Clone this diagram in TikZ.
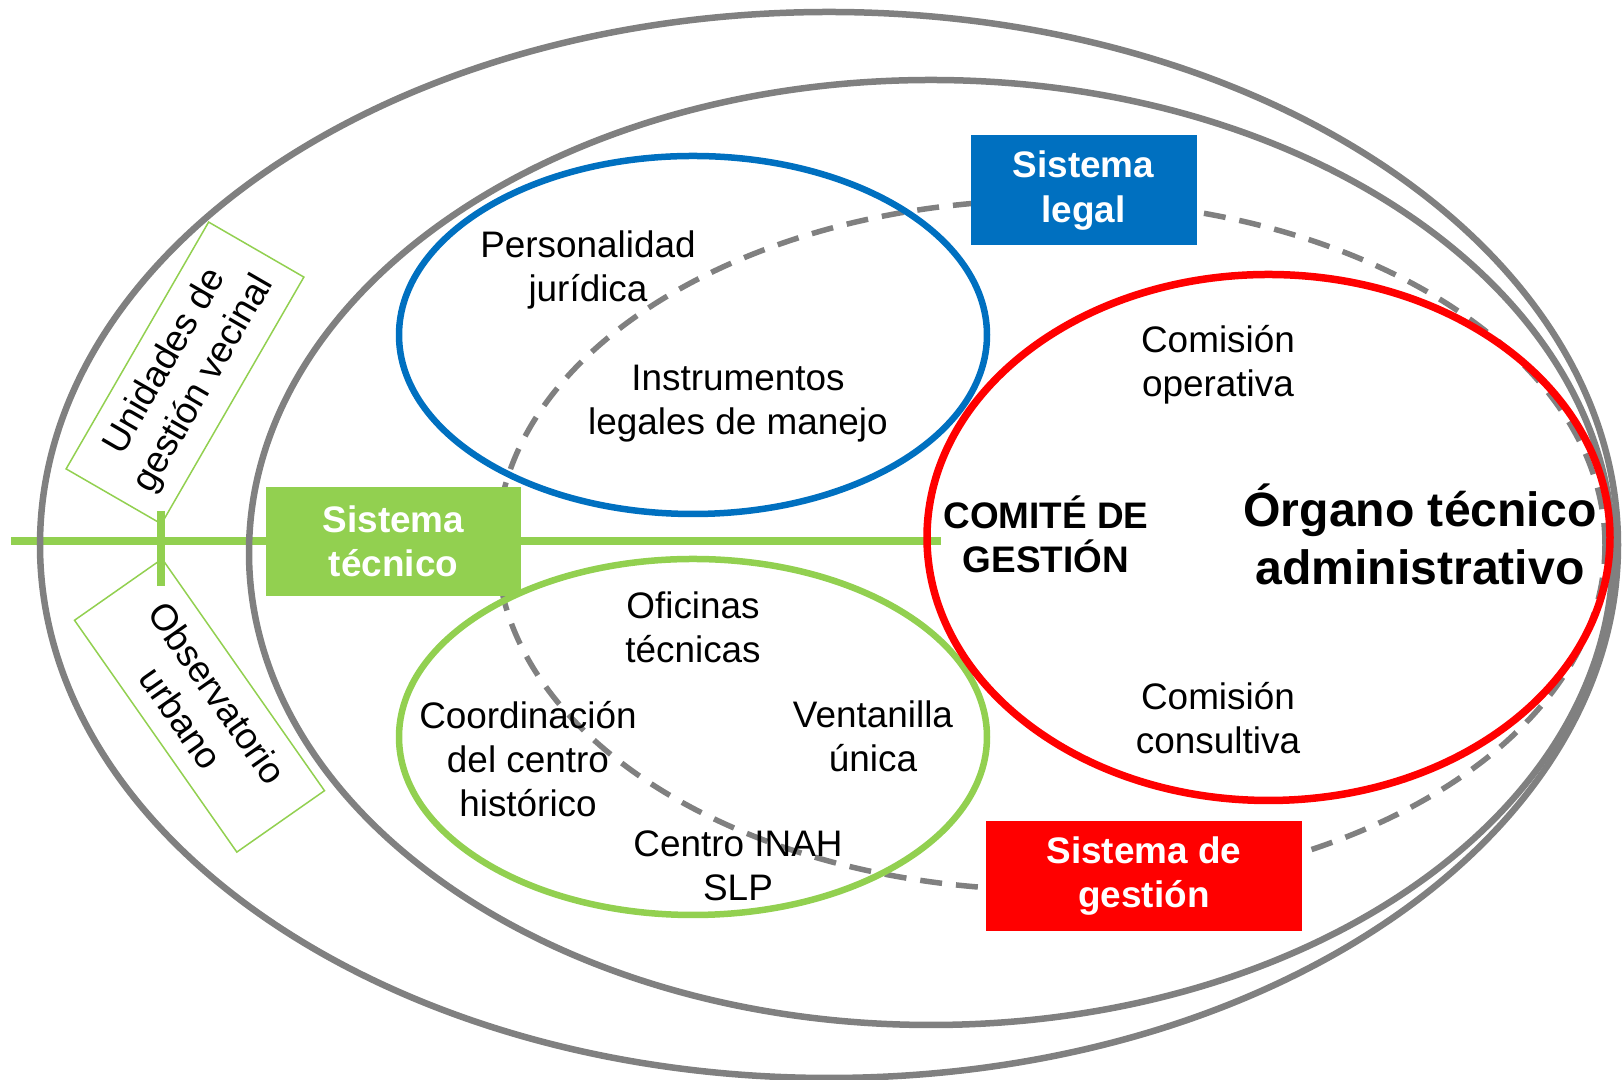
\documentclass[tikz,border=0pt]{standalone}
\usepackage{fontspec}
\setmainfont{Liberation Sans}
\usepackage{tikz}
\usetikzlibrary{shapes}
\definecolor{grisanillo}{HTML}{808080}
\definecolor{verdesis}{HTML}{92D050}
\definecolor{azulsis}{HTML}{0070C0}
\definecolor{rojosis}{HTML}{FF0000}

\begin{document}
\begin{tikzpicture}[
   anillo/.style={draw=grisanillo, line width=0.065cm},
   sistema/.style={font=\fontsize{10.5}{12.6}\selectfont\bfseries, text=white, align=center, inner sep=0pt, minimum height=1.1cm},
   etiqueta/.style={font=\fontsize{10.5}{12.6}\selectfont, align=center, inner sep=0pt},
   caja/.style={draw=verdesis, line width=0.015cm, font=\fontsize{10.5}{12.6}\selectfont, align=center, inner sep=0pt, minimum width=2.85cm, minimum height=1.1cm}
   ]
   \useasboundingbox (0,0) rectangle (16.24,10.80);

   % eje verde
   \coordinate (eje_i) at (0.11,5.39);
   \coordinate (eje_d) at (9.41,5.39);
   \coordinate (marca_a) at (1.61,5.69);
   \coordinate (marca_b) at (1.61,4.94);
   \draw[verdesis, line width=0.075cm] (eje_i) -- (eje_d);
   \draw[verdesis, line width=0.075cm] (marca_a) -- (marca_b);

   % anillos
   \draw[anillo] (8.29,5.35) ellipse (7.89 and 5.33);
   \draw[anillo] (9.31,5.275) ellipse (6.82 and 4.725);
   \draw[draw=grisanillo, line width=0.055cm, dash pattern=on 0.22cm off 0.14cm] (10.51,5.35) ellipse (5.54 and 3.45);
   \draw[draw=azulsis, line width=0.065cm] (6.93,7.45) ellipse (2.94 and 1.79);
   \draw[draw=verdesis, line width=0.065cm] (6.93,3.43) ellipse (2.94 and 1.78);
   \draw[draw=rojosis, line width=0.075cm] (12.685,5.425) ellipse (3.415 and 2.63);

   % sistemas
   \node[sistema, fill=verdesis, minimum width=2.55cm, minimum height=1.09cm] (sis_tec) at (3.935,5.385) {Sistema\\técnico};
   \node[sistema, fill=azulsis, minimum width=2.26cm] (sis_leg) at (10.835,8.895) {Sistema\\legal};
   \node[sistema, fill=rojosis, minimum width=3.16cm] (sis_ges) at (11.44,2.04) {Sistema de\\gestión};

   % cajas giradas
   \node[caja, rotate=60] (unidades) at (1.85,7.07) {Unidades de\\gestión vecinal};
   \node[caja, rotate=-55, minimum width=2.83cm, minimum height=1.07cm] (observ) at (1.995,3.745) {Observatorio\\urbano};

   % textos
   \node[etiqueta] (personal) at (5.88,8.10) {Personalidad\\jurídica};
   \node[etiqueta] (instrum) at (7.38,6.76) {Instrumentos\\legales de manejo};
   \node[etiqueta] (oficinas) at (6.93,4.53) {Oficinas\\técnicas};
   \node[etiqueta] (coord) at (5.28,3.21) {Coordinación\\del centro\\histórico};
   \node[etiqueta] (ventan) at (8.73,3.44) {Ventanilla\\única};
   \node[etiqueta] (inah) at (7.38,2.14) {Centro INAH\\SLP};
   \node[etiqueta] (com_op) at (12.18,7.15) {Comisión\\operativa};
   \node[etiqueta] (com_con) at (12.18,3.62) {Comisión\\consultiva};
   \node[etiqueta, font=\fontsize{10.5}{12.6}\selectfont\bfseries] (comite) at (10.46,5.46) {COMITÉ DE\\GESTIÓN};
   \node[etiqueta, font=\fontsize{13.7}{16.5}\selectfont\bfseries] (organo) at (14.20,5.46) {Órgano técnico\\administrativo};
\end{tikzpicture}
\end{document}
